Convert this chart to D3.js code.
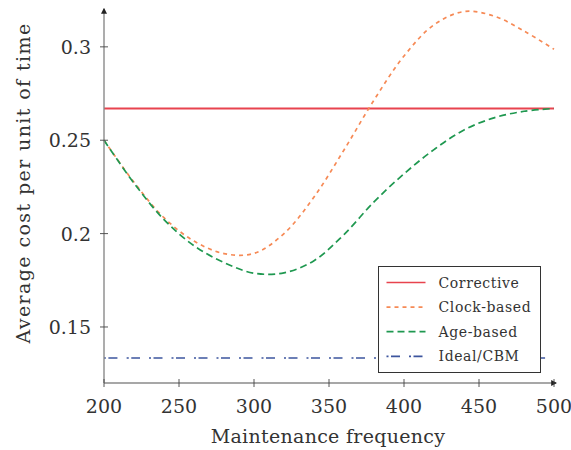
<!DOCTYPE html>
<html>
<head>
<meta charset="utf-8">
<script src="https://cdn.jsdelivr.net/npm/d3@7"></script>
<style>
  body { margin: 0; background: #fff; }
  text { font-family: "DejaVu Serif", serif; }
</style>
</head>
<body>
<div id="chart"></div>
<script>
// maintenance frequency samples
const frequency = [200, 220, 240, 260, 280, 300, 320, 340, 360, 380, 400, 420, 440, 460, 480, 500];
const corrective = 0.267;
const idealCbm = 0.1334;
const clockBased = [0.250, 0.2275, 0.2085, 0.1960, 0.1893, 0.1894, 0.2000, 0.2196, 0.2448, 0.2715, 0.2951, 0.3118, 0.3189, 0.3165, 0.3085, 0.2987];
const ageBased = [0.250, 0.227, 0.2075, 0.1935, 0.1845, 0.1788, 0.1790, 0.1855, 0.1995, 0.2170, 0.2320, 0.2450, 0.2555, 0.2620, 0.2655, 0.267];
const xTicks = [200, 250, 300, 350, 400, 450, 500];
const yTicks = [0.15, 0.2, 0.25, 0.3];

const legendNames = ["Corrective", "Clock-based", "Age-based", "Ideal/CBM"];
const colors = ["#e8434e", "#f68a56", "#1f9850", "#3d559e"];
const dashes = [null, "4,4", "7,4", "2,2.5,9,9"];

const width = 571, height = 450;
const margin = {top: 12, right: 17, bottom: 67, left: 104};

const svg = d3.select("#chart").append("svg")
    .attr("width", width)
    .attr("height", height);

const x = d3.scaleLinear().domain([200, 500]).range([margin.left, 554]);
const y = d3.scaleLinear().domain([0.12, 0.32]).range([383, 9.5]);

// arrow markers for the axes
const defs = svg.append("defs");
defs.append("marker")
    .attr("id", "arrow")
    .attr("viewBox", "0 0 10 10")
    .attr("refX", 8).attr("refY", 5)
    .attr("markerWidth", 6).attr("markerHeight", 6)
    .attr("markerUnits", "userSpaceOnUse")
    .attr("orient", "auto")
  .append("path")
    .attr("d", "M0,0 L10,5 L0,10 Z")
    .attr("fill", "#222");

// curves first, axes drawn on top
const line = d3.line()
    .x(d => x(d[0]))
    .y(d => y(d[1]))
    .curve(d3.curveCatmullRom.alpha(0.5));

const series = [
  frequency.map(f => [f, corrective]),
  frequency.map((f, i) => [f, clockBased[i]]),
  frequency.map((f, i) => [f, ageBased[i]]),
  frequency.map(f => [f, idealCbm])
];

series.forEach((s, i) => {
  svg.append("path")
      .datum(s)
      .attr("d", line)
      .attr("fill", "none")
      .attr("stroke", colors[i])
      .attr("stroke-width", i == 0 ? 1.8 : 1.7)
      .attr("stroke-dasharray", dashes[i]);
});

// axes
svg.append("line")
    .attr("x1", x(200)).attr("x2", 556)
    .attr("y1", y(0.12)).attr("y2", y(0.12))
    .attr("stroke", "#8a8a8a").attr("stroke-width", 1.4)
    .attr("marker-end", "url(#arrow)");
svg.append("line")
    .attr("x1", x(200)).attr("x2", x(200))
    .attr("y1", y(0.12)).attr("y2", 9)
    .attr("stroke", "#8a8a8a").attr("stroke-width", 1.4)
    .attr("marker-end", "url(#arrow)");

svg.selectAll(".xtick")
    .data(xTicks)
    .enter()
    .append("line")
      .attr("x1", d => x(d)).attr("x2", d => x(d))
      .attr("y1", y(0.12) - 4).attr("y2", y(0.12) + 4)
      .attr("stroke", "#444").attr("stroke-width", 0.9);

svg.selectAll(".xlabel")
    .data(xTicks)
    .enter()
    .append("text")
      .attr("x", d => x(d))
      .attr("y", 413)
      .attr("text-anchor", "middle")
      .style("font-size", "19px")
      .attr("fill", "#333")
      .text(d => d);

svg.selectAll(".ytick")
    .data(yTicks)
    .enter()
    .append("line")
      .attr("x1", x(200) - 4).attr("x2", x(200) + 4)
      .attr("y1", d => y(d)).attr("y2", d => y(d))
      .attr("stroke", "#444").attr("stroke-width", 0.9);

svg.selectAll(".ylabel")
    .data(yTicks)
    .enter()
    .append("text")
      .attr("x", 91)
      .attr("y", d => y(d) + 7)
      .attr("text-anchor", "end")
      .style("font-size", "19px")
      .attr("fill", "#333")
      .text(d => d);

svg.append("text")
    .attr("x", 328).attr("y", 443)
    .attr("text-anchor", "middle")
    .style("font-size", "19px")
    .style("letter-spacing", "0.3px")
    .attr("fill", "#333")
    .text("Maintenance frequency");

svg.append("text")
    .attr("transform", `translate(30,${183}) rotate(-90)`)
    .attr("text-anchor", "middle")
    .style("font-size", "19px")
    .style("letter-spacing", "1.4px")
    .attr("fill", "#333")
    .text("Average cost per unit of time");

// legend
const legend = svg.append("g").attr("transform", "translate(378.5,266.5)");
legend.append("rect")
    .attr("width", 162).attr("height", 106)
    .attr("fill", "#fff")
    .attr("stroke", "#333").attr("stroke-width", 1);

legendNames.forEach((name, i) => {
  const ly = 16 + i * 24.6;
  legend.append("line")
      .attr("x1", 8).attr("x2", 47)
      .attr("y1", ly).attr("y2", ly)
      .attr("stroke", colors[i])
      .attr("stroke-width", 1.7)
      .attr("stroke-dasharray", dashes[i]);
  legend.append("text")
      .attr("x", 60).attr("y", ly + 5)
      .style("font-size", "14px")
      .style("letter-spacing", "0.6px")
      .attr("fill", "#333")
      .text(name);
});
</script>
</body>
</html>
